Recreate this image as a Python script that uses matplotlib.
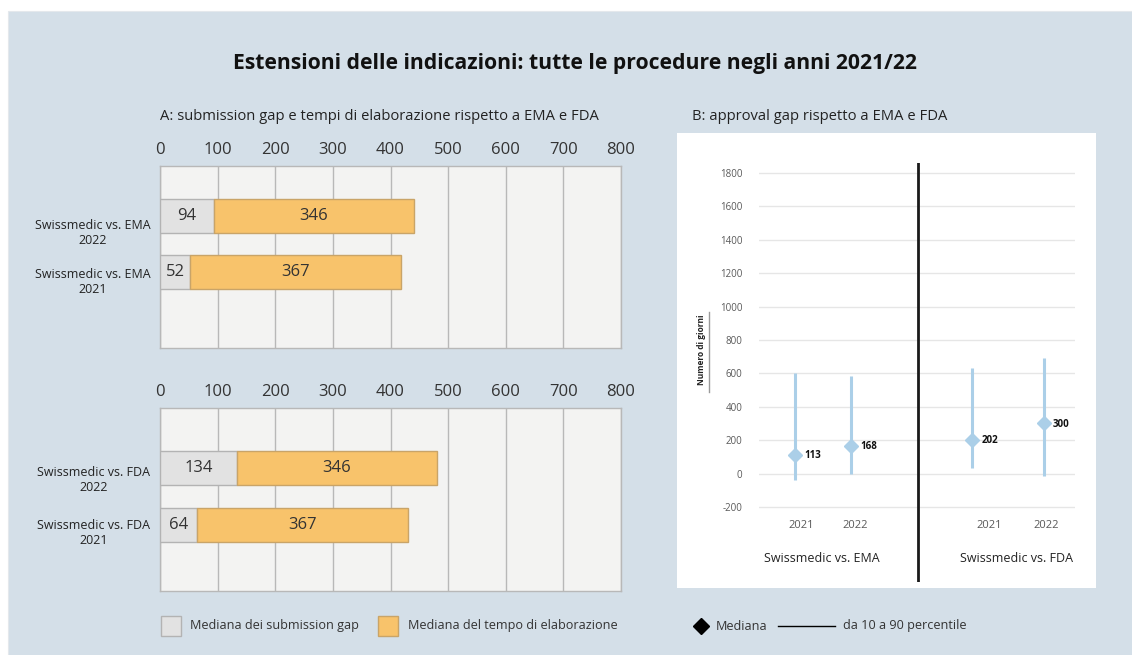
import matplotlib
matplotlib.use("Agg")
import matplotlib.pyplot as plt
from matplotlib.patches import Rectangle
from matplotlib.lines import Line2D
import matplotlib.transforms as mtransforms

plt.rcParams['font.family'] = ['Open Sans', 'DejaVu Sans']

# ---------------- data ----------------
title = "Estensioni delle indicazioni: tutte le procedure negli anni 2021/22"
sub_a = "A: submission gap e tempi di elaborazione rispetto a EMA e FDA"
sub_b = "B: approval gap rispetto a EMA e FDA"

ema_labels = ["Swissmedic vs. EMA\n2022", "Swissmedic vs. EMA\n2021"]
ema_gap = [94, 52]
ema_proc = [346, 367]

fda_labels = ["Swissmedic vs. FDA\n2022", "Swissmedic vs. FDA\n2021"]
fda_gap = [134, 64]
fda_proc = [346, 367]

xticks_a = [0, 100, 200, 300, 400, 500, 600, 700, 800]

b_years = ["2021", "2022", "2021", "2022"]
b_groups = ["Swissmedic vs. EMA", "Swissmedic vs. FDA"]
b_median = [113, 168, 202, 300]
b_p10 = [-40, -5, 35, -15]
b_p90 = [605, 585, 635, 690]
yticks_b = [-200, 0, 200, 400, 600, 800, 1000, 1200, 1400, 1600, 1800]

legend_a = ["Mediana dei submission gap", "Mediana del tempo di elaborazione"]
legend_b = ["Mediana", "da 10 a 90 percentile"]

# ---------------- style ----------------
W, H = 1132, 655
BG = "#d4dfe8"
GREY = "#e2e2e2"
GREY_E = "#b3b3b3"
ORANGE = "#f8c36b"
ORANGE_E = "#c9a468"
GRID = "#b8b8b8"
TXT = "#333333"
BLUE = "#abcfe8"

def fx(px):
    return px / W

def fy(py):
    return 1 - py / H

fig = plt.figure(figsize=(W / 100, H / 100), dpi=100)
fig.patch.set_facecolor("white")
fig.patches.append(Rectangle((fx(8), 0), 1 - fx(8), fy(11), transform=fig.transFigure,
                             facecolor=BG, edgecolor="#e4e8ec", lw=0.8, zorder=-10))

fig.text(fx(575), fy(63), title, ha="center", va="center", fontsize=15.2,
         fontweight="bold", color="#111111")
fig.text(fx(160), fy(116), sub_a, ha="left", va="center", fontsize=10.6, color="#222222")
fig.text(fx(692), fy(116), sub_b, ha="left", va="center", fontsize=10.6, color="#222222")


def bar_panel(top, bottom, labels, gap, proc, bar_pos, label_pos):
    ax = fig.add_axes([fx(160), fy(bottom), fx(621) - fx(160), (bottom - top) / H])
    hunits = (bottom - top) / 34.0
    ax.set_ylim(hunits, 0)
    ax.set_xlim(0, 800)
    ax.set_facecolor("#f3f3f2")
    for s in ax.spines.values():
        s.set_color(GRID)
        s.set_linewidth(1)
    ax.xaxis.tick_top()
    ax.set_xticks(xticks_a)
    ax.set_xticklabels([str(v) for v in xticks_a], fontsize=12, color=TXT)
    ax.tick_params(axis="x", length=0, pad=6)
    ax.grid(axis="x", color=GRID, lw=1)
    ax.set_axisbelow(True)
    ax.barh(bar_pos, gap, height=1.0, color=GREY, edgecolor=GREY_E, lw=1, zorder=3)
    ax.barh(bar_pos, proc, left=gap, height=1.0, color=ORANGE, edgecolor=ORANGE_E, lw=1, zorder=3)
    for y, g, p in zip(bar_pos, gap, proc):
        ax.text(g / 2, y, str(g), ha="center", va="center", fontsize=12, color=TXT, zorder=4)
        ax.text(g + p / 2, y, str(p), ha="center", va="center", fontsize=12, color=TXT, zorder=4)
    ax.set_yticks(label_pos)
    ax.set_yticklabels(labels, fontsize=9, color="#222222", multialignment="center")
    ax.tick_params(axis="y", length=0, pad=7)
    return ax


bar_panel(166, 348, ema_labels, ema_gap, ema_proc, [1.47, 3.12], [1.90, 3.35])
bar_panel(408, 591, fda_labels, fda_gap, fda_proc, [1.76, 3.44], [2.04, 3.60])

# ---------------- panel B ----------------
fig.patches.append(Rectangle((fx(677), fy(588)), fx(1096) - fx(677), (588 - 133) / H,
                             transform=fig.transFigure, facecolor="white", edgecolor="none", zorder=-5))

axb = fig.add_axes([fx(759), fy(582), fx(1075) - fx(759), (582 - 163) / H])
axb.set_facecolor("none")
ppu = (507 - 173) / 2000.0
axb.set_ylim(-200 - (582 - 507) / ppu, 1800 + (173 - 163) / ppu)
axb.set_xlim(0, 10)
for s in axb.spines.values():
    s.set_visible(False)
axb.set_xticks([])
axb.set_yticks(yticks_b)
axb.set_yticklabels([str(v) for v in yticks_b], fontsize=7, color="#595959")
axb.tick_params(axis="y", length=0, pad=12)
for v in yticks_b:
    axb.axhline(v, color="#e6e6e6", lw=1, zorder=1)

xpos = [1.15, 2.92, 6.75, 9.02]
div_x = 5.03
axb.axvline(div_x, color="#1a1a1a", lw=2, zorder=2)
axb.vlines(xpos, b_p10, b_p90, color=BLUE, lw=2.2, zorder=3)
axb.plot(xpos, b_median, linestyle="none", marker="D", markersize=7.5,
         color=BLUE, markeredgecolor=BLUE, zorder=4)
off = mtransforms.offset_copy(axb.transData, fig=fig, x=9, y=-1, units="dots")
for x, m in zip(xpos, b_median):
    axb.text(x, m, str(m), transform=off, ha="left", va="center", fontsize=7,
             fontweight="bold", color="#111111")

btr = mtransforms.blended_transform_factory(axb.transData, fig.transFigure)
year_x = [1.35, 3.03, 7.27, 9.08]
for x, yl in zip(year_x, b_years):
    axb.text(x, fy(526), yl, transform=btr, ha="center", va="center", fontsize=8, color="#595959")
grp_x = [2.0, 8.15]
for x, g in zip(grp_x, b_groups):
    axb.text(x, fy(559), g, transform=btr, ha="center", va="center", fontsize=9, color="#222222")

fig.text(fx(702), fy(350), "Numero di giorni", rotation=90, ha="center", va="center",
         fontsize=6, fontweight="bold", color="#222222", zorder=5)
fig.lines.append(Line2D([fx(709), fx(709)], [fy(312), fy(392)], transform=fig.transFigure,
                        color="#9a9a9a", lw=1, zorder=5))

# ---------------- legend ----------------
ly = 626
fig.patches.append(Rectangle((fx(161), fy(636)), 20 / W, 20 / H, transform=fig.transFigure,
                             facecolor=GREY, edgecolor=GREY_E, lw=1, zorder=2))
fig.text(fx(190), fy(ly), legend_a[0], ha="left", va="center", fontsize=9.1, color=TXT)
fig.patches.append(Rectangle((fx(378), fy(636)), 20 / W, 20 / H, transform=fig.transFigure,
                             facecolor=ORANGE, edgecolor=ORANGE_E, lw=1, zorder=2))
fig.text(fx(408), fy(ly), legend_a[1], ha="left", va="center", fontsize=9.1, color=TXT)
fig.lines.append(Line2D([fx(701)], [fy(ly)], transform=fig.transFigure, marker="D",
                        markersize=8.5, color="black", linestyle="none"))
fig.text(fx(716), fy(ly), legend_b[0], ha="left", va="center", fontsize=9.1, color=TXT)
fig.lines.append(Line2D([fx(778), fx(835)], [fy(ly), fy(ly)], transform=fig.transFigure,
                        color="black", lw=1))
fig.text(fx(843), fy(ly), legend_b[1], ha="left", va="center", fontsize=9.1, color=TXT)

fig.savefig("out.png", dpi=100, facecolor=fig.get_facecolor())
